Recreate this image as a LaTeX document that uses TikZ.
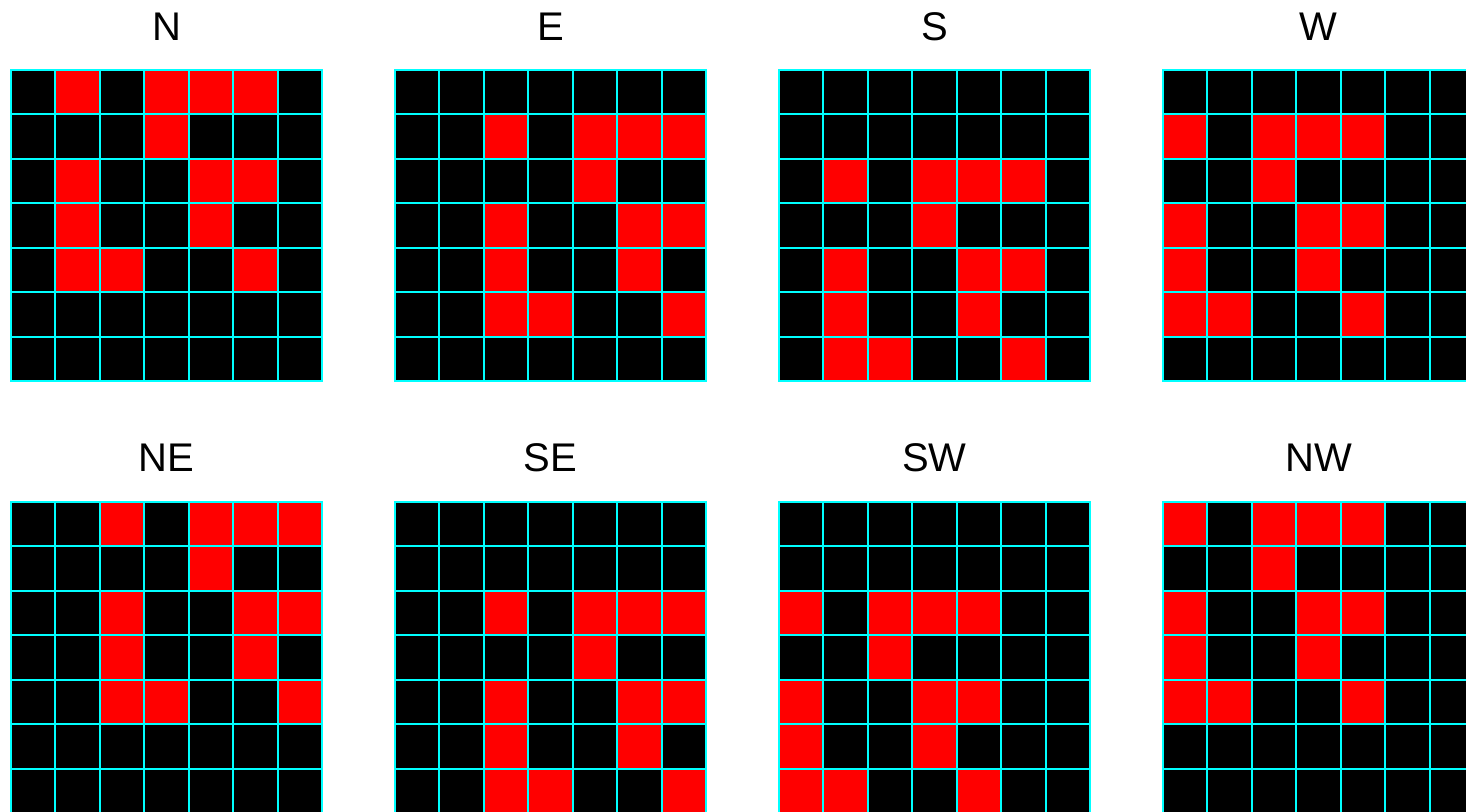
\documentclass[tikz,border=0pt]{standalone}
\usepackage{fontspec}
\setmainfont{Liberation Sans}
\definecolor{gridcyan}{RGB}{0,255,255}
\definecolor{cellred}{RGB}{255,0,0}
\tikzset{
    cellsize/.store in=\cellsize, cellsize=44.43,
    gridline/.style={gridcyan, line width=2pt, line cap=rect},
    heading/.style={inner sep=0pt, font=\fontsize{40}{48}\selectfont}
}
% one 7x7 board: left, top, column shift, row shift
\newcommand{\dirgrid}[4]{%
    \fill[black] (#1,#2) rectangle ++(311,311);
    \foreach \c/\r in {0/0,2/0,3/0,4/0,2/1,0/2,3/2,4/2,0/3,3/3,0/4,1/4,4/4}
        \fill[cellred] ({#1+(\c+#3)*\cellsize},{#2+(\r+#4)*\cellsize}) rectangle ++(\cellsize,\cellsize);
    \foreach \i in {0,...,7} {
        \draw[gridline] ({#1+\i*\cellsize},#2) -- ++(0,311);
        \draw[gridline] (#1,{#2+\i*\cellsize}) -- ++(311,0);
    }%
}
\begin{document}
\begin{tikzpicture}[x=1pt, y=-1pt]
        \useasboundingbox (0,0) rectangle (1466,811);
        \clip (0,0) rectangle (1466,811);
        % Upper row: N, E, S, W
            \node[heading] (tN) at (166.5, 27) {N};
            \node[heading] (tE) at (550.5, 27) {E};
            \node[heading] (tS) at (934.5, 27) {S};
            \node[heading] (tW) at (1318.5, 27) {W};
            \dirgrid{11}{70}{1}{0}
            \dirgrid{395}{70}{2}{1}
            \dirgrid{779}{70}{1}{2}
            \dirgrid{1163}{70}{0}{1}
        % Lower row: NE, SE, SW, NW
            \node[heading] (tNE) at (166.5, 458) {NE};
            \node[heading] (tSE) at (550.5, 458) {SE};
            \node[heading] (tSW) at (934.5, 458) {SW};
            \node[heading] (tNW) at (1318.5, 458) {NW};
            \dirgrid{11}{502}{2}{0}
            \dirgrid{395}{502}{2}{2}
            \dirgrid{779}{502}{0}{2}
            \dirgrid{1163}{502}{0}{0}
\end{tikzpicture}
\end{document}
